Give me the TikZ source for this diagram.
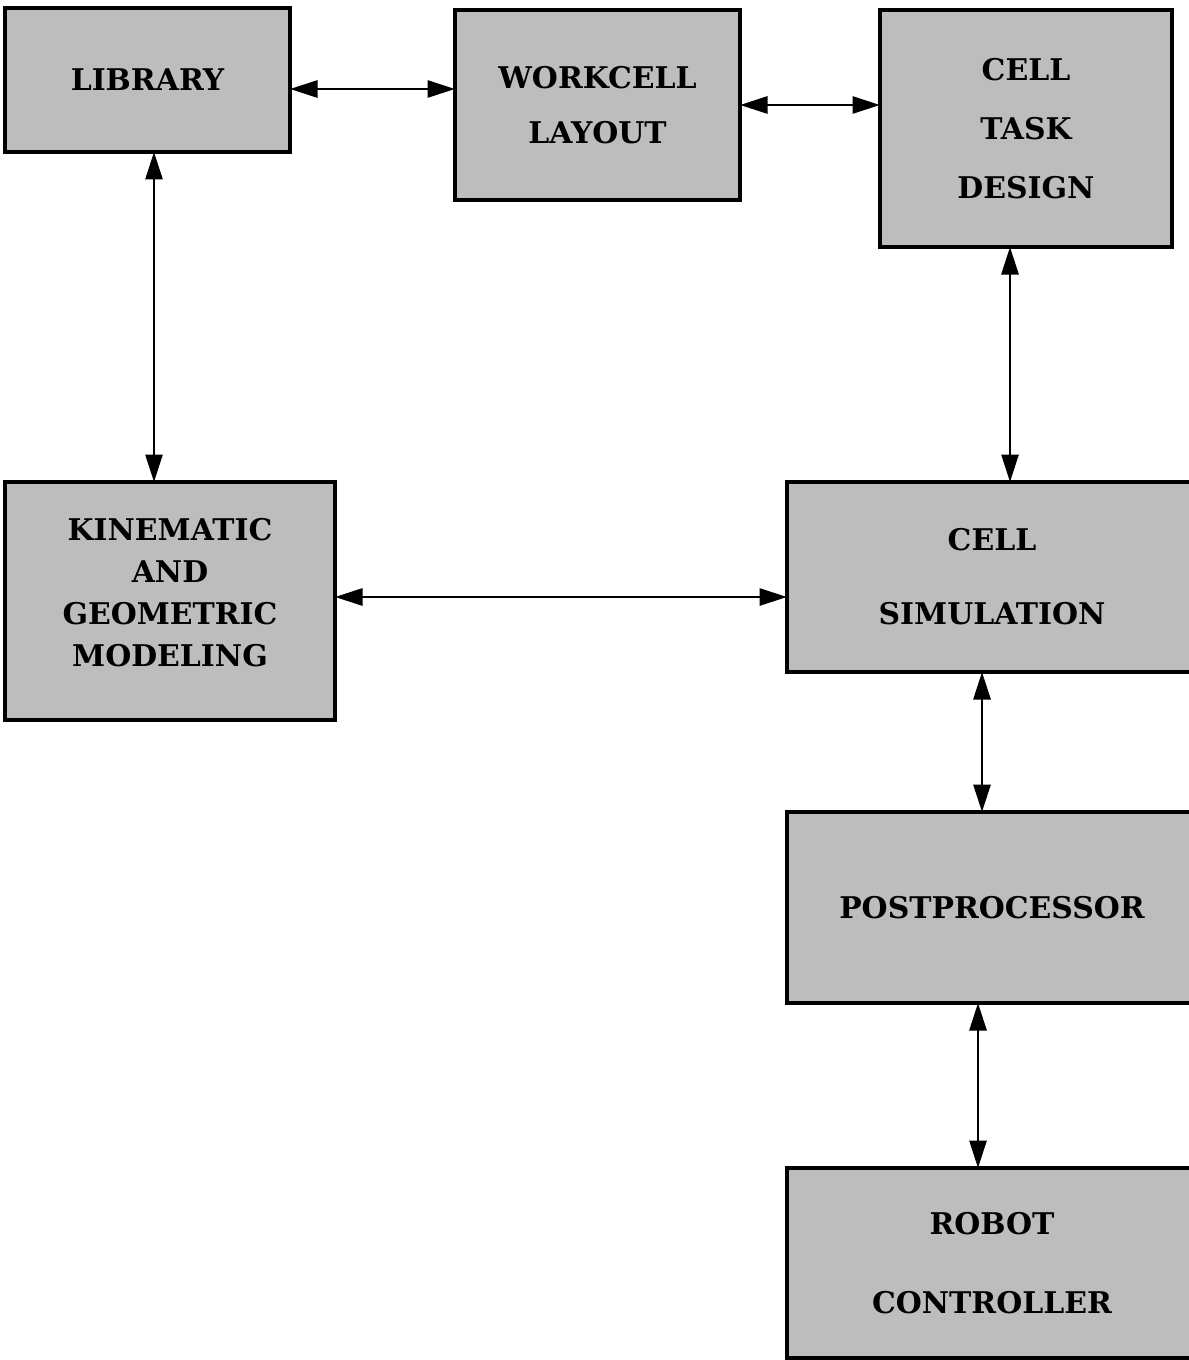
\documentclass[tikz,border=0pt]{standalone}
\usepackage{fontspec}
\setmainfont{DejaVu Serif}
\usetikzlibrary{arrows.meta}

\begin{document}
\begin{tikzpicture}[
  block/.style={draw, line width=1.8pt, outer sep=0pt, fill=black!26, align=center,
    font=\fontsize{17}{24}\selectfont\bfseries},
  link/.style={{Triangle[length=0.55cm, width=0.34cm]}-{Triangle[length=0.55cm, width=0.34cm]}, line width=1.6pt}
]
\useasboundingbox (0,0) rectangle (23.76,-27.2);

% Top row
\node[block, minimum width=5.7cm, minimum height=2.88cm] (lib) at (2.95,-1.6) {LIBRARY};
\node[block, minimum width=5.7cm, minimum height=3.8cm] (wcl) at (11.95,-2.1) {WORKCELL\\[7pt]LAYOUT};
\node[block, minimum width=5.84cm, minimum height=4.74cm] (ctd) at (20.52,-2.57) {CELL\\[9.5pt]TASK\\[9.5pt]DESIGN};

% Middle row
\node[block, minimum width=6.6cm, minimum height=4.76cm] (kin) at (3.4,-12.02) {KINEMATIC\\AND\\GEOMETRIC\\MODELING\\[-14pt]\mbox{}};
\node[block, minimum width=8.2cm, minimum height=3.8cm] (sim) at (19.84,-11.54) {CELL\\[18pt]SIMULATION};

% Right column
\node[block, minimum width=8.2cm, minimum height=3.82cm] (pp) at (19.84,-18.15) {POSTPROCESSOR};
\node[block, minimum width=8.2cm, minimum height=3.8cm] (rc) at (19.84,-25.26) {ROBOT\\[21pt]CONTROLLER};

% Connections
\draw[link] ([yshift=-0.18cm]lib.east) -- ([yshift=-0.18cm]lib.east -| wcl.west);
\draw[link] (wcl.east) -- (wcl.east -| ctd.west);
\draw[link] ([xshift=0.13cm]lib.south) -- ([xshift=0.13cm]lib.south |- kin.north);
\draw[link] ([xshift=-0.32cm]ctd.south) -- ([xshift=-0.32cm]ctd.south |- sim.north);
\draw[link] ([yshift=0.08cm]kin.east) -- ([yshift=0.08cm]kin.east -| sim.west);
\draw[link] ([xshift=-0.2cm]sim.south) -- ([xshift=-0.2cm]sim.south |- pp.north);
\draw[link] ([xshift=-0.28cm]pp.south) -- ([xshift=-0.28cm]pp.south |- rc.north);
\end{tikzpicture}
\end{document}
